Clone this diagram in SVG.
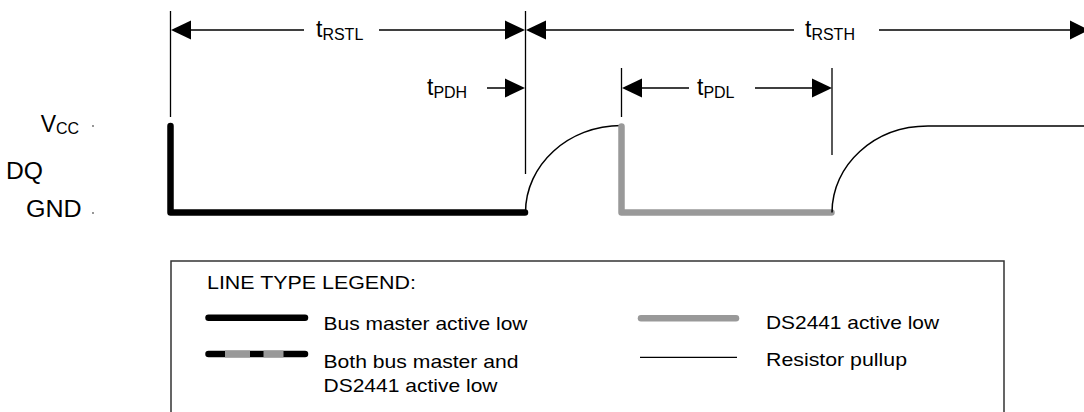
<svg xmlns="http://www.w3.org/2000/svg" width="1084" height="412" viewBox="0 0 1084 412">
<style>
text{font-family:"Liberation Sans",Arial,sans-serif;fill:#000}
.lbl{font-size:23px}
.sub{font-size:16px}
.leg{font-size:19px}
.dim{stroke:#000;stroke-width:1.3;fill:none}
.ah{fill:#000}
.master{stroke:#000;stroke-width:6.5;fill:none;stroke-linecap:round;stroke-linejoin:round}
.slave{stroke:#999;stroke-width:6.5;fill:none;stroke-linecap:round;stroke-linejoin:round}
.pull{stroke:#000;stroke-width:1.5;fill:none}
</style>
<rect width="1084" height="412" fill="#fff"/>
<g id="signal-labels">
<text class="lbl" x="40.7" y="131.7">V<tspan class="sub" dy="2">CC</tspan></text>
<text class="lbl" x="6" y="179" textLength="37" lengthAdjust="spacingAndGlyphs">DQ</text>
<text class="lbl" x="26" y="216.7" textLength="55.7" lengthAdjust="spacingAndGlyphs">GND</text>
<circle cx="93" cy="126" r="0.9" fill="#666"/>
<circle cx="93" cy="213" r="0.9" fill="#666"/>
</g>
<g id="connectors">
<g id="dimension-lines">
<path class="dim" d="M170.5,11V117M525.5,11V174M621.5,68V117M832,68V155"/>
<path class="dim" d="M190,30H304M379,30H506M545,30H794M879,30H1071M487,88H506M641,88H689M755,88H813"/>
<polygon class="ah" points="171,30 191,20.5 191,39.5"/>
<polygon class="ah" points="525,30 505,20.5 505,39.5"/>
<polygon class="ah" points="526,30 546,20.5 546,39.5"/>
<polygon class="ah" points="1089,30 1070,20.5 1070,39.5"/>
<polygon class="ah" points="525,88 505,78.5 505,97.5"/>
<polygon class="ah" points="622,88 642,78.5 642,97.5"/>
<polygon class="ah" points="832,88 812,78.5 812,97.5"/>
</g>
<g id="waveform">
<path class="master" d="M170.5,126V212.5H525"/>
<path class="pull" d="M525.5,212.5C525.5,165 568,125.5 621.5,125.5"/>
<path class="slave" d="M621.5,126.5V212.5H831.5"/>
<path class="pull" d="M832,212.5C832,165 874,126 928,126H1084"/>
</g>
</g>
<g id="timing-labels">
<text class="lbl" x="316" y="37">t<tspan class="sub" dy="2.5">RSTL</tspan></text>
<text class="lbl" x="805" y="37">t<tspan class="sub" dy="2.5">RSTH</tspan></text>
<text class="lbl" x="427" y="95">t<tspan class="sub" dy="2.5">PDH</tspan></text>
<text class="lbl" x="697" y="95">t<tspan class="sub" dy="2.5">PDL</tspan></text>
</g>
<g id="legend">
<path d="M171,414V261H1004V414" fill="none" stroke="#333" stroke-width="1.5"/>
<text class="leg" x="207" y="289" textLength="209" lengthAdjust="spacingAndGlyphs">LINE TYPE LEGEND:</text>
<path class="master" d="M208.5,317.7H305" stroke-width="7"/>
<text class="leg" x="323.5" y="329.5" textLength="204" lengthAdjust="spacingAndGlyphs">Bus master active low</text>
<path class="master" d="M208.5,354H305" stroke-width="7"/>
<path d="M225,354H250M263.5,354H283.5" stroke="#999" stroke-width="7" fill="none"/>
<text class="leg" x="323.5" y="368" textLength="195" lengthAdjust="spacingAndGlyphs">Both bus master and</text>
<text class="leg" x="323.5" y="391.5" textLength="174" lengthAdjust="spacingAndGlyphs">DS2441 active low</text>
<path class="slave" d="M641,318.3H736" stroke-width="7.5"/>
<text class="leg" x="766" y="328.5" textLength="173" lengthAdjust="spacingAndGlyphs">DS2441 active low</text>
<path d="M640,357.3H737" stroke="#000" stroke-width="1.3"/>
<text class="leg" x="766" y="366" textLength="141" lengthAdjust="spacingAndGlyphs">Resistor pullup</text>
</g>
</svg>
